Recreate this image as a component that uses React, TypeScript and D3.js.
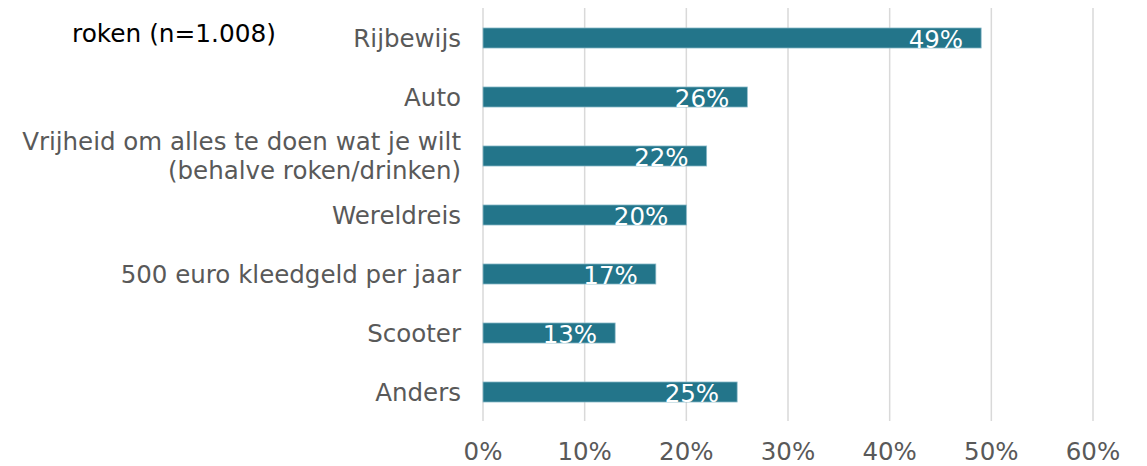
import React from 'react';
import * as d3 from 'd3';

// Categories (top to bottom), multi-line labels split with '\n'
const categories = [
  'Rijbewijs',
  'Auto',
  'Vrijheid om alles te doen wat je wilt\n(behalve roken/drinken)',
  'Wereldreis',
  '500 euro kleedgeld per jaar',
  'Scooter',
  'Anders',
];
const values = [0.49, 0.26, 0.22, 0.2, 0.17, 0.13, 0.25];
const xTicks = [0, 0.1, 0.2, 0.3, 0.4, 0.5, 0.6];
const subtitle = 'roken (n=1.008)';

const W = 1147;
const H = 466;
const FONT = '"DejaVu Sans", Verdana, sans-serif';
const FS = 24.5;
const BAR = '#23758a';
const TEXT = '#595959';
const GRID = '#d9d9d9';

const App = () => {
  const x = d3.scaleLinear().domain([0, 0.6]).range([483, 1093]);
  const y = d3
    .scaleBand()
    .domain(categories)
    .range([8.5, 421.5])
    .paddingInner(0.66)
    .paddingOuter(0.33);
  const fmt = d3.format('.0%');
  const bw = y.bandwidth();

  return (
    <svg
      width={W}
      height={H}
      viewBox={`0 0 ${W} ${H}`}
      style={{ position: 'absolute', left: 0, top: 0, background: '#fff', fontFamily: FONT }}
    >
      {/* grid lines */}
      {xTicks.map((t) => (
        <line key={t} x1={x(t)} x2={x(t)} y1={8} y2={421} stroke={GRID} strokeWidth={1.5} />
      ))}

      {/* x axis labels */}
      {xTicks.map((t) => (
        <text key={'l' + t} x={x(t)} y={459.5} textAnchor="middle" fontSize={FS} fill={TEXT}>
          {fmt(t)}
        </text>
      ))}

      {/* bars */}
      {categories.map((c, i) => (
        <rect
          key={c}
          x={x(0)}
          y={y(c)}
          width={x(values[i]) - x(0)}
          height={bw}
          fill={BAR}
          stroke="#8fbccb"
          strokeWidth={0.75}
        />
      ))}

      {/* value labels */}
      {categories.map((c, i) => (
        <text
          key={'v' + c}
          x={x(values[i]) - 18}
          y={(y(c) ?? 0) + bw}
          textAnchor="end"
          fontSize={FS}
          fill="#ffffff"
        >
          {fmt(values[i])}
        </text>
      ))}

      {/* category labels */}
      {categories.map((c) => {
        const lines = c.split('\n');
        const cy = (y(c) ?? 0) + bw / 2;
        const lh = 29;
        const y0 = cy - ((lines.length - 1) * lh) / 2 + 8.8;
        return (
          <text key={'c' + c} x={461} textAnchor="end" fontSize={FS} fill={TEXT}>
            {lines.map((ln, j) => (
              <tspan key={j} x={461} y={y0 + j * lh}>
                {ln}
              </tspan>
            ))}
          </text>
        );
      })}

      {/* second line of the (cropped) title */}
      <text x={72} y={42} fontSize={FS + 0.3} fill="#000000">
        {subtitle}
      </text>
    </svg>
  );
};

export default App;
